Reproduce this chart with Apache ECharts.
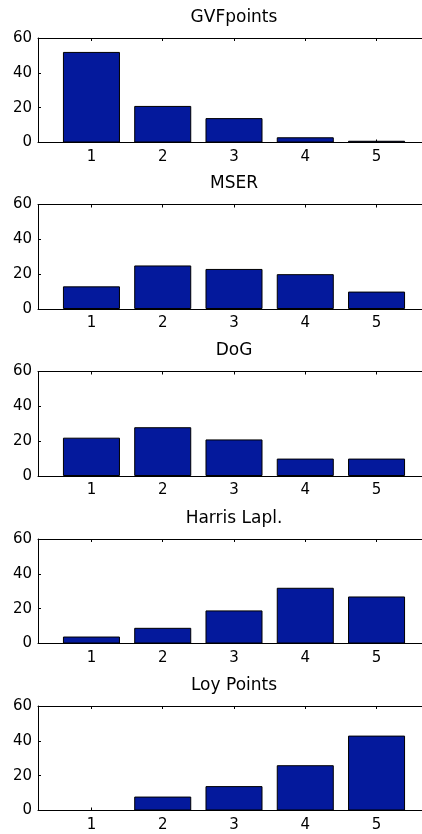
<!DOCTYPE html>
<html>
<head>
<meta charset="utf-8">
<script src="https://cdn.jsdelivr.net/npm/echarts@6/dist/echarts.min.js"></script>
<style>
  html, body { margin: 0; padding: 0; background: #fff; }
  #main { width: 422px; height: 834px; }
</style>
</head>
<body>
<div id="main"></div>
<script>
// 数据
const categories = [1, 2, 3, 4, 5]
const titles = ['GVFpoints', 'MSER', 'DoG', 'Harris Lapl.', 'Loy Points']
const gvfValues = [52, 21, 14, 3, 1]
const mserValues = [13, 25, 23, 20, 10]
const dogValues = [22, 28, 21, 10, 10]
const harrisValues = [4, 9, 19, 32, 27]
const loyValues = [0, 8, 14, 26, 43]
const yTicks = [0, 20, 40, 60]

const panels = [gvfValues, mserValues, dogValues, harrisValues, loyValues]
// 每个子图的上边界
const panelTops = [38, 204.5, 371.5, 539, 706]
const panelHeight = 104.5

const font = 'DejaVu Sans'
const grid = [], xAxis = [], yAxis = [], series = [], title = []

panels.forEach((values, i) => {
  const top = panelTops[i]
  // 右边超出画布（原图被裁掉）
  grid.push({ left: 38, top: top, width: 392, height: panelHeight, outerBoundsMode: 'none', containLabel: false })
  title.push({
    text: titles[i],
    left: 234,
    top: top - 29,
    textAlign: 'center',
    padding: 0,
    textStyle: { fontFamily: font, fontSize: 17, fontWeight: 'normal', color: '#000' }
  })
  // 下方 x 轴
  xAxis.push({
    type: 'value', gridIndex: i, min: 0.25, max: 5.75,
    axisLine: { show: true, lineStyle: { color: '#000', width: 1 } },
    axisTick: { show: true, inside: true, length: 3, customValues: categories, lineStyle: { color: '#000' } },
    axisLabel: { show: true, customValues: categories, margin: 7, fontFamily: font, fontSize: 15, color: '#000' },
    splitLine: { show: false }
  })
  // 上边框
  xAxis.push({
    type: 'value', gridIndex: i, position: 'top', min: 0.25, max: 5.75,
    axisLine: { show: true, onZero: false, lineStyle: { color: '#000', width: 1 } },
    axisTick: { show: true, inside: true, length: 3, customValues: categories, lineStyle: { color: '#000' } },
    axisLabel: { show: false },
    splitLine: { show: false }
  })
  yAxis.push({
    type: 'value', gridIndex: i, min: 0, max: 60, interval: 20,
    axisLine: { show: true, lineStyle: { color: '#000', width: 1 } },
    axisTick: { show: true, inside: true, length: 3, lineStyle: { color: '#000' } },
    axisLabel: { margin: 6, fontFamily: font, fontSize: 15, color: '#000',
      customValues: yTicks },
    splitLine: { show: false }
  })
  series.push({
    type: 'bar',
    xAxisIndex: i * 2,
    yAxisIndex: i,
    barWidth: '80%',
    data: categories.map((c, k) => [c, values[k]]),
    itemStyle: { color: '#04199c', borderColor: '#000', borderWidth: 1 },
    emphasis: { disabled: true },
    animation: false
  })
})

const chart = echarts.init(document.getElementById('main'))
chart.setOption({ animation: false, title, grid, xAxis, yAxis, series })
window.addEventListener('resize', chart.resize)
</script>
</body>
</html>
